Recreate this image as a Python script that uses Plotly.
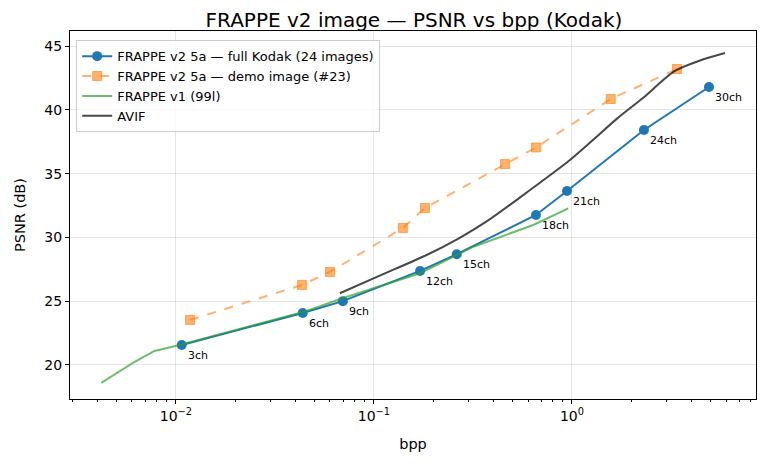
import numpy as np
import plotly.graph_objects as go

# Data
v2_bpp = [0.0107, 0.0437, 0.0697, 0.171, 0.262, 0.658, 0.944, 2.31, 4.92]
v2_psnr = [21.57, 24.07, 25.0, 27.37, 28.68, 31.76, 33.64, 38.42, 41.79]
v2_labels = ["3ch", "6ch", "9ch", "12ch", "15ch", "18ch", "21ch", "24ch", "30ch"]

demo_bpp = [0.0118, 0.0433, 0.060, 0.140, 0.181, 0.459, 0.658, 1.57, 3.39]
demo_psnr = [23.53, 26.27, 27.29, 30.74, 32.3, 35.75, 37.05, 40.85, 43.2]

v1_bpp = [0.0042, 0.0062, 0.0078, 0.0107, 0.045, 0.07, 0.171, 0.262, 0.318, 0.638, 0.958]
v1_psnr = [18.6, 20.25, 21.1, 21.6, 24.2, 25.25, 27.19, 28.62, 29.27, 30.97, 32.28]

avif_bpp = [0.0673, 0.107, 0.1846, 0.27, 0.371, 0.614, 0.977, 1.276, 1.7, 2.29, 3.31, 4.4, 5.93]
avif_psnr = [25.62, 27.0, 28.62, 29.95, 31.25, 33.71, 36.07, 37.63, 39.35, 40.95, 43.05, 43.85, 44.45]

x_ticks = [0.01, 0.1, 1]
x_ticktext = ["10<sup>−2</sup>", "10<sup>−1</sup>", "10<sup>0</sup>"]
y_ticks = [20, 25, 30, 35, 40, 45]

FONT = "DejaVu Sans"

fig = go.Figure()
fig.add_trace(go.Scatter(
    x=v2_bpp, y=v2_psnr, mode="lines+markers",
    name="FRAPPE v2 5a — full Kodak (24 images)",
    line=dict(color="#1f77b4", width=2),
    marker=dict(color="#1f77b4", size=10, symbol="circle"),
))
fig.add_trace(go.Scatter(
    x=demo_bpp, y=demo_psnr, mode="lines+markers",
    name="FRAPPE v2 5a — demo image (#23)",
    line=dict(color="rgba(255,127,14,0.6)", width=2, dash="dash"),
    marker=dict(color="rgba(255,127,14,0.6)", size=9, symbol="square",
                line=dict(color="rgba(255,127,14,0.6)", width=1)),
))
fig.add_trace(go.Scatter(
    x=v1_bpp, y=v1_psnr, mode="lines",
    name="FRAPPE v1 (99l)",
    line=dict(color="rgba(44,160,44,0.7)", width=2),
))
fig.add_trace(go.Scatter(
    x=avif_bpp, y=avif_psnr, mode="lines",
    name="AVIF",
    line=dict(color="rgba(0,0,0,0.72)", width=2, shape="spline", smoothing=0.8),
))

for bx, py, lab in zip(v2_bpp, v2_psnr, v2_labels):
    fig.add_annotation(
        x=np.log10(bx), y=py, text=lab, showarrow=False,
        xanchor="left", yanchor="top", xshift=4, yshift=-2,
        font=dict(family=FONT, size=11, color="black"),
    )

minor_vals = [m * 10.0 ** e for e in range(-3, 1) for m in range(2, 10)]

fig.update_layout(
    width=767, height=468,
    margin=dict(l=70, r=11, t=31, b=69),
    paper_bgcolor="white", plot_bgcolor="white",
    font=dict(family=FONT, size=14, color="black"),
    title=dict(text="FRAPPE v2 image — PSNR vs bpp (Kodak)", x=414 / 767,
               xanchor="center", y=1 - 20 / 468, yanchor="middle",
               font=dict(family=FONT, size=20, color="black")),
    showlegend=True,
    legend=dict(x=0.009, y=0.975, xanchor="left", yanchor="top",
                bgcolor="rgba(255,255,255,0.8)", bordercolor="#cccccc", borderwidth=1,
                font=dict(family=FONT, size=13), tracegroupgap=0, itemwidth=30),
)
fig.update_xaxes(
    type="log", range=[np.log10(0.00292), np.log10(8.5)],
    tickvals=x_ticks, ticktext=x_ticktext,
    ticks="outside", ticklen=4, tickcolor="black",
    showline=True, linecolor="black", linewidth=1, mirror=True,
    showgrid=True, gridcolor="rgba(0,0,0,0.1)", gridwidth=1,
    zeroline=False,
    title=dict(text="bpp", font=dict(family=FONT, size=14.5), standoff=16),
    tickfont=dict(family=FONT, size=14),
    minor=dict(tickvals=minor_vals, ticks="outside", ticklen=2, tickcolor="black", showgrid=False),
)
fig.update_yaxes(
    range=[17.33, 46.18], tickvals=y_ticks,
    ticks="outside", ticklen=4, tickcolor="black",
    showline=True, linecolor="black", linewidth=1, mirror=True,
    showgrid=True, gridcolor="rgba(0,0,0,0.1)", gridwidth=1,
    zeroline=False,
    title=dict(text="PSNR (dB)", font=dict(family=FONT, size=14.5), standoff=15),
    tickfont=dict(family=FONT, size=14),
)

fig.write_html("out.html")
